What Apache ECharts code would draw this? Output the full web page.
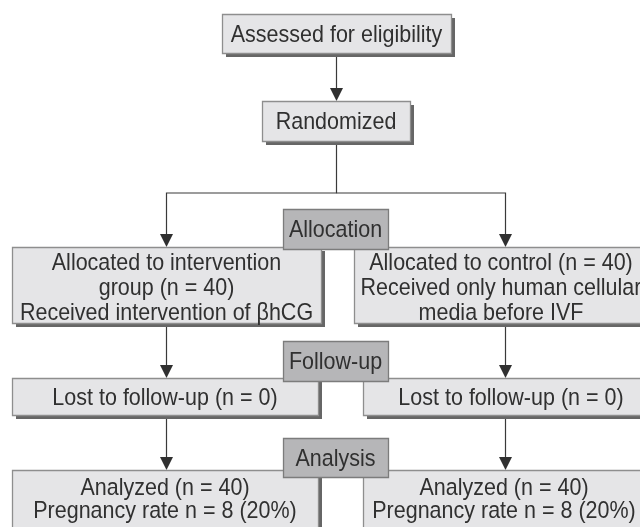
<!DOCTYPE html>
<html><head><meta charset="utf-8">
<script src="https://cdn.jsdelivr.net/npm/echarts@6/dist/echarts.min.js"></script>
<style>html,body{margin:0;padding:0;background:#fff}#c{width:640px;height:527px}</style>
</head><body><div id="c"></div>
<script>
// ---------------- data ----------------
const screeningSteps = ['Assessed for eligibility', 'Randomized'];
const stageNames = ['Allocation', 'Follow-up', 'Analysis'];
const groupNames = ['intervention\ngroup', 'control'];
const allocatedN = [40, 40];
const interventionText = ['Received intervention of βhCG', 'Received only human cellular\nmedia before IVF'];
const lostToFollowUpN = [0, 0];
const analyzedN = [40, 40];
const pregnancyN = [8, 8];
const pregnancyPct = [20, 20];

// ---------------- layout (canvas units, 640 x 527) ----------------
const L = {
  top: [[222, 14, 451, 53], [262, 101, 410, 141]],
  stage: [[283, 209, 388, 249], [283, 341, 388, 381], [283, 438, 388, 477]],
  alloc: [[12, 247, 321, 323], [354, 247, 648, 323]],
  allocTextY: 286.5,
  lost: [[12, 378, 318, 415], [363, 378, 659, 415]],
  analyzed: [[12, 470, 318, 570], [363, 470, 645, 570]],
  analyzedTextY: 498,
  textShift: 2
};
const arrows = [
  [[336, 53], [336, 101]],
  [[336, 141], [336, 193], [166, 193], [166, 247]],
  [[336, 193], [505, 193], [505, 247]],
  [[166, 323], [166, 378]], [[505, 323], [505, 378]],
  [[166, 415], [166, 470]], [[505, 415], [505, 470]]
];

// ---------------- build boxes ----------------
const mainBoxes = [];
screeningSteps.forEach((t, i) => mainBoxes.push({ r: L.top[i], text: t, lh: 25 }));
[0, 1].forEach(i => {
  mainBoxes.push({ r: L.alloc[i], text: 'Allocated to ' + groupNames[i] + ' (n = ' + allocatedN[i] + ')\n' + interventionText[i], ty: L.allocTextY, lh: 25 });
  mainBoxes.push({ r: L.lost[i], text: 'Lost to follow-up (n = ' + lostToFollowUpN[i] + ')', lh: 25 });
  mainBoxes.push({ r: L.analyzed[i], text: 'Analyzed (n = ' + analyzedN[i] + ')\nPregnancy rate n = ' + pregnancyN[i] + ' (' + pregnancyPct[i] + '%)', ty: L.analyzedTextY, lh: 23 });
});
const stageBoxes = stageNames.map((t, i) => ({ r: L.stage[i], text: t, lh: 25 }));

const FONT = '"Liberation Sans", Arial, sans-serif';
const TEXT_COLOR = '#303030';
const SCALE_Y = 1.08;

function boxRenderer(list, isStage) {
  return function (params, api) {
    const b = list[params.dataIndex];
    const p0 = api.coord([b.r[0], b.r[1]]);
    const p1 = api.coord([b.r[2], b.r[3]]);
    const x = p0[0], y = p0[1], w = p1[0] - p0[0], h = p1[1] - p0[1];
    const cx = x + w / 2;
    const cy = (b.ty !== undefined ? api.coord([0, b.ty])[1] : y + h / 2) + L.textShift;
    const children = [];
    if (!isStage) {
      children.push({ type: 'rect', shape: { x: x + 4, y: y + 4, width: w, height: h },
        style: { fill: '#666666' } });
    }
    children.push({ type: 'rect', shape: { x: x + 0.5, y: y + 0.5, width: w, height: h },
      style: { fill: isStage ? '#b6b6b8' : '#e5e5e7', stroke: isStage ? '#7c7c7c' : '#8e8e8e', lineWidth: 1.3 } });
    children.push({ type: 'text', x: cx, y: cy, scaleY: SCALE_Y,
      style: { text: b.text, x: 0, y: 0, align: 'center', verticalAlign: 'middle',
      fontSize: 21.5, lineHeight: b.lh / SCALE_Y, fontFamily: FONT, fill: TEXT_COLOR } });
    return { type: 'group', children: children };
  };
}

function arrowRenderer(params, api) {
  const pts = arrows[params.dataIndex].map(p => api.coord(p));
  const end = pts[pts.length - 1];
  const prev = pts[pts.length - 2];
  const head = 13, half = 6.5;
  const linePts = pts.slice(0, -1).concat([[end[0], end[1] - (end[1] > prev[1] ? head - 1 : 0)]]);
  return { type: 'group', children: [
    { type: 'polyline', shape: { points: linePts.map(p => [Math.round(p[0]) + 0.5, p[1]]) },
      style: { stroke: '#3a3a3a', lineWidth: 1.2, fill: null } },
    { type: 'polygon', shape: { points: [[end[0] + 0.5, end[1]], [end[0] + 0.5 - half, end[1] - head], [end[0] + 0.5 + half, end[1] - head]] },
      style: { fill: '#303030' } }
  ] };
}

const chart = echarts.init(document.getElementById('c'), null, { renderer: 'canvas' });
chart.setOption({
  animation: false,
  backgroundColor: '#ffffff',
  grid: { left: 0, right: 0, top: 0, bottom: 0 },
  xAxis: { type: 'value', min: 0, max: 640, show: false },
  yAxis: { type: 'value', min: 0, max: 527, inverse: true, show: false },
  series: [
    { type: 'custom', z: 1, renderItem: arrowRenderer, data: arrows.map((a, i) => [i]), clip: false },
    { type: 'custom', z: 2, renderItem: boxRenderer(mainBoxes, false), data: mainBoxes.map((b, i) => [i]), clip: true },
    { type: 'custom', z: 3, renderItem: boxRenderer(stageBoxes, true), data: stageBoxes.map((b, i) => [i]), clip: true }
  ]
});
</script></body></html>
